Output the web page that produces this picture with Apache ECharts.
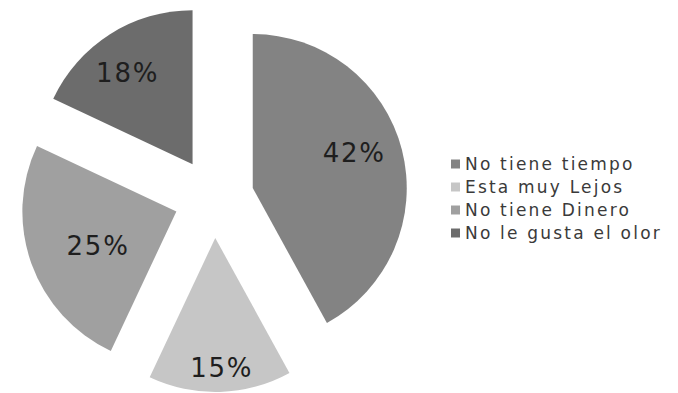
<!DOCTYPE html>
<html>
<head>
<meta charset="utf-8">
<script src="https://cdn.jsdelivr.net/npm/echarts@6/dist/echarts.min.js"></script>
<style>
  html, body { margin: 0; padding: 0; background: #fff; }
  #chart { width: 678px; height: 393px; }
  /* wide, spaced lettering for all chart text */
  #chart svg text { letter-spacing: 1.8px; }
  #chart svg text.legend-text { letter-spacing: 2.2px; }
</style>
</head>
<body>
<div id="chart"></div>
<script>
// Reasons given, share of answers (%)
const categories = ['No tiene tiempo', 'Esta muy Lejos', 'No tiene Dinero', 'No le gusta el olor'];
const shares = [42, 15, 25, 18];
const sliceColors = ['#838383', '#c6c6c6', '#a0a0a0', '#6c6c6c'];
// Nudges for the in-slice percentage labels
const labelShifts = [[24, -15], [4, 50], [-3, 7], [-22, -24]];

const chart = echarts.init(document.getElementById('chart'), null, { renderer: 'svg' });

const data = categories.map((name, i) => ({
  name: name,
  value: shares[i],
  selected: true,
  itemStyle: { color: sliceColors[i] }
}));

chart.setOption({
  animation: false,
  backgroundColor: '#ffffff',
  legend: {
    orient: 'vertical',
    left: 446,
    top: 150,
    itemWidth: 9,
    itemHeight: 9,
    itemGap: 5,
    icon: 'rect',
    selectedMode: false,
    textStyle: {
      fontFamily: 'DejaVu Sans',
      fontSize: 17,
      color: '#3a3a3a',
      lineHeight: 18
    },
    data: categories
  },
  series: [{
    type: 'pie',
    center: [214, 198],
    radius: [0, 154],
    startAngle: 90,
    clockwise: true,
    selectedMode: 'multiple',
    selectedOffset: 40,
    avoidLabelOverlap: false,
    emphasis: { disabled: true },
    label: {
      show: true,
      position: 'inside',
      formatter: '{c}%',
      fontFamily: 'DejaVu Sans',
      fontSize: 26,
      color: '#1e1e1e'
    },
    labelLayout: function (params) {
      const s = labelShifts[params.dataIndex];
      return { dx: s[0], dy: s[1] };
    },
    labelLine: { show: false },
    itemStyle: { borderWidth: 0 },
    data: data
  }]
});

// wider spacing for the legend entries
chart.on('finished', function () {
  document.querySelectorAll('#chart svg text').forEach(function (t) {
    if (categories.indexOf(t.textContent) >= 0) t.classList.add('legend-text');
  });
});
document.querySelectorAll('#chart svg text').forEach(function (t) {
  if (categories.indexOf(t.textContent) >= 0) t.classList.add('legend-text');
});
</script>
</body>
</html>
